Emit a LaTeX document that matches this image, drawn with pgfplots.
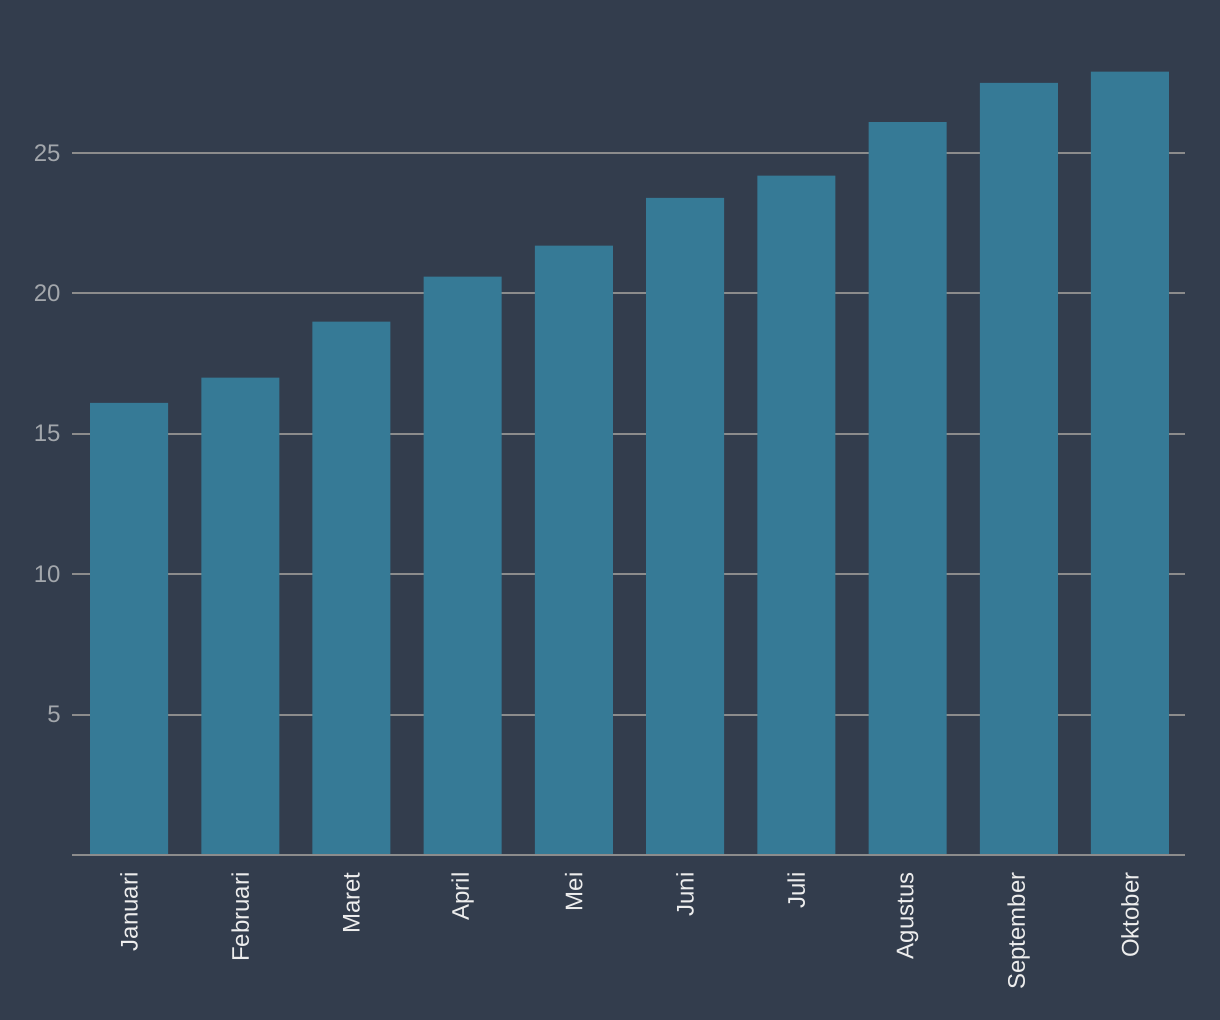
\documentclass[border=0pt]{standalone}
\usepackage{pgfplots}
\pgfplotsset{compat=1.18}
\usepackage{fontspec}
\setmainfont{Liberation Sans}
\definecolor{bgc}{HTML}{333D4D}
\definecolor{barc}{HTML}{367A96}
\definecolor{gridc}{HTML}{8C8C8C}
\definecolor{ylab}{HTML}{A3A7AC}
\definecolor{xlab}{HTML}{EDEDED}
\begin{document}
\begin{tikzpicture}
\fill[bgc] (0,0) rectangle (610pt,510pt);
\useasboundingbox (0,0) rectangle (610pt,510pt);
\begin{axis}[
  at={(36pt,82.5pt)}, anchor=south west,
  scale only axis,
  width=556.5pt, height=400.1pt,
  xmin=-0.513, xmax=9.495,
  ymin=0, ymax=28.5,
  axis line style={draw=none},
  axis x line*=bottom,
  hide y axis=false,
  ytick={5,10,15,20,25},
  xtick={0,...,9},
  xticklabels={Januari,Februari,Maret,April,Mei,Juni,Juli,Agustus,September,Oktober},
  major tick length=0pt,
  ymajorgrids,
  grid style={gridc, line width=1pt},
  /pgf/number format/assume math mode=true,
  font=\fontsize{12}{14}\selectfont,
  yticklabel style={anchor=east, inner sep=0pt, xshift=-5.5pt, text=ylab},
  xticklabel style={yshift=-8.5pt, rotate=90, anchor=east, inner sep=0pt, text=xlab},
  clip=false,
]
\addplot[ybar, bar width=39pt, fill=barc, draw=none] coordinates {
(0,16.1) (1,17.0) (2,19.0) (3,20.6) (4,21.7) (5,23.4) (6,24.2) (7,26.1) (8,27.5) (9,27.9)
};
\draw[gridc, line width=1pt] (axis cs:-0.513,0) -- (axis cs:9.495,0);
\end{axis}
\end{tikzpicture}
\end{document}
